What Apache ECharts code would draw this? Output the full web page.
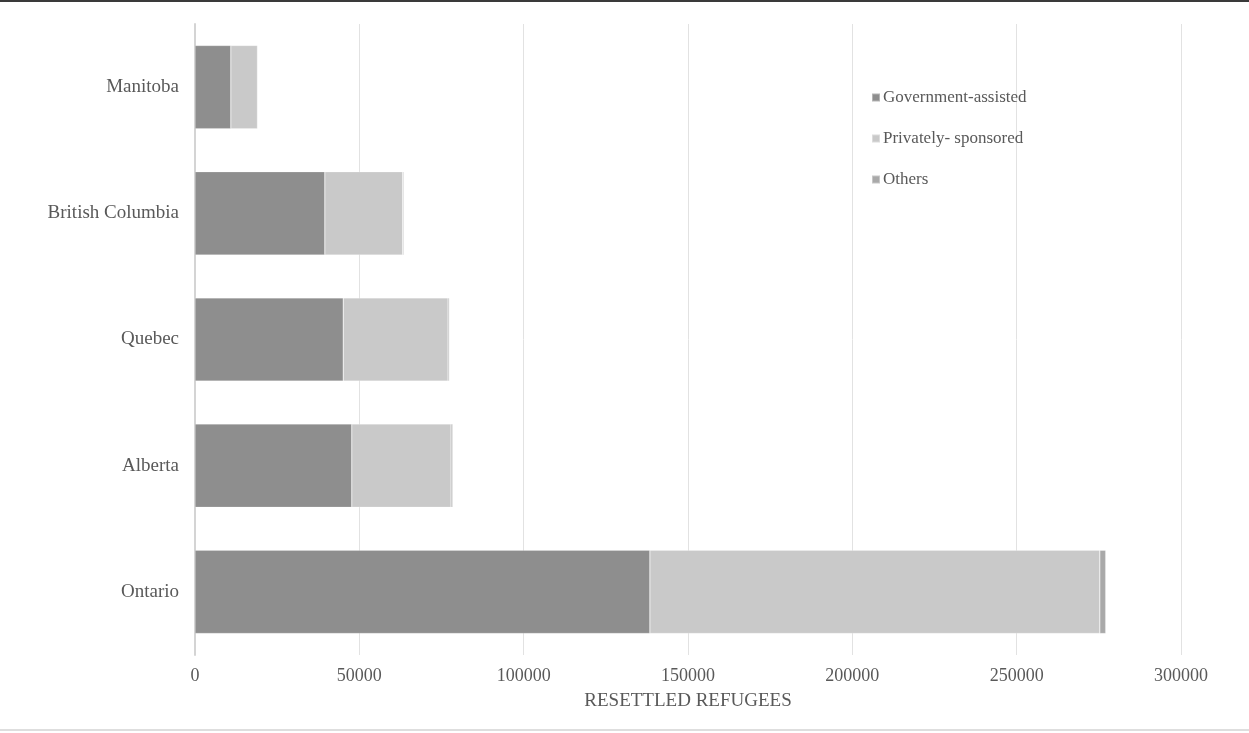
<!DOCTYPE html>
<html>
<head>
<meta charset="utf-8">
<script src="https://cdn.jsdelivr.net/npm/echarts@6/dist/echarts.min.js"></script>
<style>
  html, body { margin: 0; padding: 0; background: #fff; }
  #chart { width: 1249px; height: 733px; }
</style>
</head>
<body>
<div id="chart"></div>
<script>
// Provinces, listed bottom-to-top on the category axis
const provinces = ['Ontario', 'Alberta', 'Quebec', 'British Columbia', 'Manitoba'];
const governmentAssisted = [138400, 47700, 45100, 39500, 10900];
const privatelySponsored = [136900, 30200, 31900, 23700, 8100];
const others = [1800, 500, 400, 300, 200];
const xTicks = { min: 0, max: 300000, interval: 50000 };

const font = '"Liberation Serif", "Times New Roman", serif';
const textColor = '#595959';

const chart = echarts.init(document.getElementById('chart'), null, { renderer: 'canvas' });

function barSeries(name, data, color) {
  return {
    name: name,
    type: 'bar',
    stack: 'total',
    data: data,
    barCategoryGap: '34%',
    itemStyle: { color: color, borderColor: 'rgba(255,255,255,0.35)', borderWidth: 0.6 },
    emphasis: { disabled: true }
  };
}

chart.setOption({
  animation: false,
  backgroundColor: '#fff',
  textStyle: { fontFamily: font },
  grid: { left: 195, right: 68, top: 24, bottom: 78, containLabel: false },
  legend: {
    orient: 'vertical',
    left: 866,
    top: 84,
    itemWidth: 8,
    itemHeight: 8,
    itemGap: 24,
    icon: 'rect',
    textStyle: { fontFamily: font, fontSize: 17, color: textColor, padding: [0, 0, 0, -2] },
    data: ['Government-assisted', 'Privately- sponsored', 'Others']
  },
  xAxis: {
    type: 'value',
    min: xTicks.min,
    max: xTicks.max,
    interval: xTicks.interval,
    name: 'RESETTLED REFUGEES',
    nameLocation: 'middle',
    nameGap: 37,
    nameTextStyle: { fontFamily: font, fontSize: 19, color: textColor },
    axisLine: { show: false },
    axisTick: { show: false },
    axisLabel: { fontFamily: font, fontSize: 18, color: textColor, margin: 12, formatter: v => String(v) },
    splitLine: { show: true, lineStyle: { color: '#e2e2e2', width: 1 } }
  },
  yAxis: {
    type: 'category',
    data: provinces,
    axisLine: { show: true, lineStyle: { color: '#d4d4d4', width: 2 } },
    axisTick: { show: false },
    axisLabel: { fontFamily: font, fontSize: 19, color: textColor, margin: 16 },
    splitLine: { show: false }
  },
  series: [
    barSeries('Government-assisted', governmentAssisted, '#8e8e8e'),
    barSeries('Privately- sponsored', privatelySponsored, '#c9c9c9'),
    barSeries('Others', others, '#a9a9a9')
  ],
  graphic: [
    { type: 'rect', left: 0, top: 0, shape: { width: 1249, height: 2 }, style: { fill: '#3a3a3a' }, silent: true },
    { type: 'rect', left: 0, top: 729, shape: { width: 1249, height: 2 }, style: { fill: '#dedede' }, silent: true }
  ]
});
</script>
</body>
</html>
